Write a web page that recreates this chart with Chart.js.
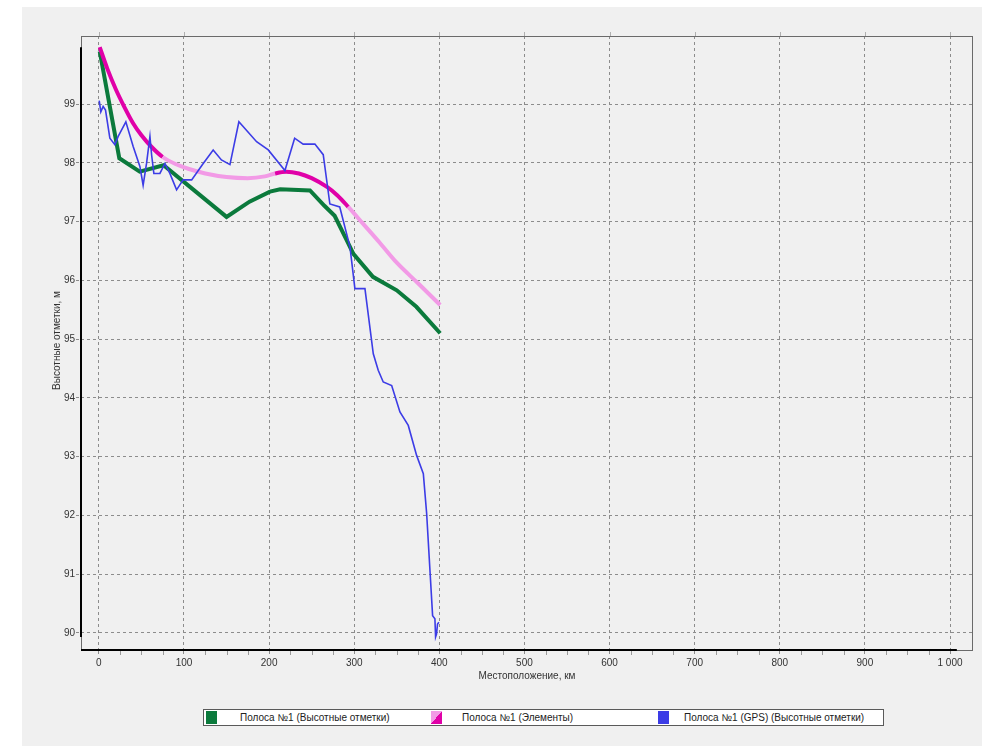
<!DOCTYPE html>
<html>
<head>
<meta charset="utf-8">
<title>Высотные отметки</title>
<script src="https://cdn.jsdelivr.net/npm/chart.js@4/dist/chart.umd.min.js"></script>
<style>
  html, body { margin: 0; padding: 0; background: #ffffff; }
  #panel { position: absolute; left: 22px; top: 7px; width: 960px; height: 739px; background: #f0f0f0; }
  #chart { position: absolute; left: 0; top: 0; }
  #legend {
    position: absolute; left: 203px; top: 709px; width: 681px; height: 17px;
    box-sizing: border-box; background: #ffffff; border: 1px solid #5a5a5a;
    font: 10px "Liberation Sans", Arial, sans-serif; color: #222;
  }
  .sw { position: absolute; top: 1px; width: 11px; height: 13px; }
  .lt { position: absolute; top: 0; height: 15px; line-height: 15px; white-space: nowrap; }
</style>
</head>
<body>
<div id="panel"></div>
<canvas id="chart" width="982" height="746"></canvas>
<div id="legend"></div>
<script>
// ---- data -------------------------------------------------------------
const seriesNames = [
  'Полоса №1 (Высотные отметки)',
  'Полоса №1 (Элементы)',
  'Полоса №1 (GPS) (Высотные отметки)'
];

// Полоса №1 (Высотные отметки)
const heightKm = [1, 24, 48, 76, 150, 177, 201, 213, 248, 265, 277, 291, 299, 322, 350, 373, 401];
const heightM  = [99.9, 98.08, 97.85, 97.96, 97.08, 97.34, 97.51, 97.55, 97.53, 97.27, 97.1, 96.69, 96.45, 96.06, 95.83, 95.55, 95.1];

// Полоса №1 (Элементы)
const elemKm = [1, 10, 20, 30, 40, 50, 62, 75, 90, 105, 125, 150, 175, 195, 207, 220, 235, 250, 268, 280, 293, 310, 330, 350, 375, 401];
const elemM  = [99.97, 99.6, 99.25, 98.95, 98.68, 98.47, 98.27, 98.1, 97.98, 97.9, 97.82, 97.76, 97.74, 97.77, 97.82, 97.85, 97.82, 97.74, 97.59, 97.45, 97.25, 96.97, 96.64, 96.3, 95.95, 95.58];
// boundaries between consecutive elements along the strip, km
const elemBreaks = [75, 207, 293];

// Полоса №1 (GPS) (Высотные отметки)
const gpsKm = [0.4, 2.3, 5, 7.8, 12.9, 18.8, 22.7, 31.7, 40.3, 48.2, 52, 56, 60, 62, 64.6, 71.7, 77.6, 83.4, 91.3, 99, 109, 122.6, 134.3, 144, 154, 164.5, 185.3, 199, 218.6, 230, 240, 253.8, 263.6, 271.4, 283, 295, 300.8, 312.6, 322.4, 328.2, 334.1, 344, 353.7, 363.5, 373.3, 381.2, 385.1, 389, 392.1, 394.8, 395.6, 396.7, 397.9, 399.5];
const gpsM  = [99.06, 98.87, 98.96, 98.9, 98.42, 98.31, 98.45, 98.7, 98.28, 97.94, 97.62, 97.99, 98.45, 98.13, 97.82, 97.82, 97.99, 97.82, 97.54, 97.71, 97.71, 97.99, 98.22, 98.05, 97.97, 98.7, 98.36, 98.22, 97.87, 98.42, 98.32, 98.32, 98.14, 97.3, 97.25, 96.57, 95.86, 95.86, 94.75, 94.47, 94.27, 94.21, 93.76, 93.53, 93.02, 92.71, 92.03, 91.06, 90.29, 90.24, 89.93, 89.98, 90.15, 90.18];

// axis ticks
const xTickValues = [0, 100, 200, 300, 400, 500, 600, 700, 800, 900, 1000];
const yTickValues = [90, 91, 92, 93, 94, 95, 96, 97, 98, 99];
const xTitle = 'Местоположение, км';
const yTitle = 'Высотные отметки, м';

// ---- styling ----------------------------------------------------------
const FONT = '"Liberation Sans", Arial, sans-serif';
const GREEN = '#0b7a3c';
const MAGENTA = '#e000a8';
const PINK = '#f29ae6';
const BLUE = '#3c3ce6';
const GRID = '#8c8c8c';

const toPoints = (xs, ys) => xs.map((x, i) => ({ x: x, y: ys[i] }));
const fmtKm = v => String(v).replace(/\B(?=(\d{3})+$)/g, ' ');

function elementColor(x) {
  const passed = elemBreaks.filter(b => b <= x + 1e-9).length;
  return passed % 2 === 0 ? MAGENTA : PINK;
}

// frame, axis lines, minor ticks and axis titles
const framePlugin = {
  id: 'frame',
  afterDatasetsDraw(chart) {
    const { ctx, chartArea: a, scales: { x, y } } = chart;
    ctx.save();
    // thin frame
    ctx.strokeStyle = '#6a6a6a';
    ctx.lineWidth = 1;
    ctx.strokeRect(a.left + 0.5, a.top + 0.5, a.right - a.left - 1, a.bottom - a.top - 1);
    // tick stubs above the frame
    ctx.strokeStyle = '#b0b0b0';
    ctx.beginPath();
    xTickValues.forEach(v => {
      const px = Math.round(x.getPixelForValue(v)) + 0.5;
      ctx.moveTo(px, a.top - 4); ctx.lineTo(px, a.top);
    });
    ctx.stroke();
    // heavy axis lines
    const allY = heightM.concat(elemM, gpsM);
    ctx.strokeStyle = '#000';
    ctx.lineWidth = 2;
    ctx.beginPath();
    ctx.moveTo(a.left, y.getPixelForValue(Math.max(...allY)));
    ctx.lineTo(a.left, y.getPixelForValue(Math.min(...allY)));
    ctx.moveTo(a.left, a.bottom - 1);
    ctx.lineTo(x.getPixelForValue(1008), a.bottom - 1);
    ctx.stroke();
    // minor ticks on x axis
    ctx.strokeStyle = '#9a9a9a';
    ctx.lineWidth = 1;
    ctx.beginPath();
    for (let v = 25; v < 1025; v += 25) {
      if (v % 100 === 0) continue;
      const px = Math.round(x.getPixelForValue(v)) + 0.5;
      ctx.moveTo(px, a.bottom); ctx.lineTo(px, a.bottom + 4);
    }
    ctx.stroke();
    // axis titles
    ctx.fillStyle = '#333';
    ctx.font = '10px ' + FONT;
    ctx.textAlign = 'center';
    ctx.textBaseline = 'middle';
    ctx.fillText(xTitle, (a.left + a.right) / 2, 676);
    ctx.translate(57, (a.top + a.bottom) / 2 - 3);
    ctx.rotate(-Math.PI / 2);
    ctx.fillText(yTitle, 0, 0);
    ctx.restore();
  }
};

const chart = new Chart(document.getElementById('chart'), {
  type: 'line',
  data: {
    datasets: [
      {
        label: seriesNames[0],
        data: toPoints(heightKm, heightM),
        borderColor: GREEN,
        borderWidth: 4,
        pointRadius: 0,
        tension: 0,
        order: 2
      },
      {
        label: seriesNames[1],
        data: toPoints(elemKm, elemM),
        borderColor: MAGENTA,
        borderWidth: 4,
        pointRadius: 0,
        cubicInterpolationMode: 'monotone',
        segment: { borderColor: c => elementColor(c.p0.parsed.x) },
        order: 1
      },
      {
        label: seriesNames[2],
        data: toPoints(gpsKm, gpsM),
        borderColor: BLUE,
        borderWidth: 1.6,
        pointRadius: 0,
        tension: 0,
        order: 0
      }
    ]
  },
  options: {
    responsive: false,
    animation: false,
    parsing: true,
    layout: { padding: { left: 0, top: 36, right: 9, bottom: 0 } },
    plugins: { legend: { display: false }, tooltip: { enabled: false } },
    scales: {
      x: {
        type: 'linear',
        min: -21,
        max: 1027,
        afterBuildTicks: s => { s.ticks = xTickValues.map(v => ({ value: v })); },
        afterFit: s => { s.height = 95; },
        ticks: {
          callback: v => fmtKm(v),
          color: '#333',
          font: { family: FONT, size: 10 },
          padding: 1,
          maxRotation: 0,
          autoSkip: false
        },
        grid: { color: GRID, lineWidth: 1, tickLength: 5, tickColor: GRID, tickBorderDash: [3, 3] },
        border: { display: false, dash: [3, 3] }
      },
      y: {
        type: 'linear',
        min: 89.69,
        max: 100.16,
        afterBuildTicks: s => { s.ticks = yTickValues.map(v => ({ value: v })); },
        afterFit: s => { s.width = 81; },
        ticks: {
          callback: v => String(v),
          color: '#333',
          font: { family: FONT, size: 10 },
          padding: 1,
          autoSkip: false
        },
        grid: { color: GRID, lineWidth: 1, tickLength: 5, tickColor: GRID, tickBorderDash: [3, 3] },
        border: { display: false, dash: [3, 3] }
      }
    }
  },
  plugins: [framePlugin]
});

// legend box
const legend = document.getElementById('legend');
const legendItems = [
  { sw: 2, text: 36, bg: GREEN },
  { sw: 227, text: 258, bg: 'linear-gradient(to bottom right, ' + PINK + ' 50%, ' + MAGENTA + ' 50%)' },
  { sw: 454, text: 480, bg: BLUE }
];
legendItems.forEach((it, i) => {
  const s = document.createElement('div');
  s.className = 'sw';
  s.style.left = it.sw + 'px';
  s.style.background = it.bg;
  legend.appendChild(s);
  const t = document.createElement('div');
  t.className = 'lt';
  t.style.left = it.text + 'px';
  t.textContent = chart.data.datasets[i].label;
  legend.appendChild(t);
});
</script>
</body>
</html>
